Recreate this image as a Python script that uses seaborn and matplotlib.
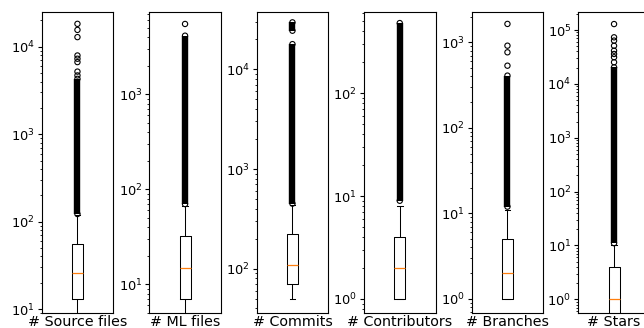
import matplotlib
matplotlib.use("Agg")
import matplotlib.pyplot as plt
import seaborn as sns

# ---------------- data ----------------
metrics = ["# Source files", "# ML files", "# Commits", "# Contributors", "# Branches", "# Stars"]

whisker_low = [1, 1, 50, 1, 1, 0]
q1 = [13, 7, 70, 1, 1, 0]
median = [26, 15, 109, 2, 2, 1]
q3 = [56, 32, 221, 4, 5, 4]
whisker_high = [120, 67, 440, 8, 11, 10]

# dense runs of outliers (lowest, highest value of each run)
dense_source = [(122, 4300)]
dense_ml = [(70, 4140)]
dense_commits = [(450, 17900), (24400, 29600)]
dense_contributors = [(9, 480)]
dense_branches = [(12, 408)]
dense_stars = [(11, 20300)]

# individual outliers above the dense runs
sparse_source = [4700, 5200, 6680, 7300, 7950, 12900, 15600, 18300]
sparse_ml = [5500]
sparse_commits = []
sparse_contributors = []
sparse_branches = [533, 764, 913, 1640]
sparse_stars = [25200, 31200, 35900, 41300, 51000, 63600, 73200, 129000]

y_limits = [(9.0, 25000), (5.0, 7350), (36, 37600), (0.73, 615), (0.686, 2260), (0.557, 216000)]

dense_runs = [dense_source, dense_ml, dense_commits, dense_contributors, dense_branches, dense_stars]
sparse_outliers = [sparse_source, sparse_ml, sparse_commits, sparse_contributors, sparse_branches, sparse_stars]

# ---------------- layout ----------------
W, H = 644, 328
fig = plt.figure(figsize=(W / 100, H / 100), dpi=100)
lefts_px = [41.7, 149.3, 256.7, 364.0, 471.7, 578.3]
ax_w_px, ax_bottom_px, ax_h_px = 71.5, 15, 301

marker_size = 3.8   # pt
marker_edge = 0.8   # pt
band_width = marker_size + marker_edge

for i, name in enumerate(metrics):
    ax = fig.add_axes([lefts_px[i] / W, ax_bottom_px / H, ax_w_px / W, ax_h_px / H])
    box_values = [whisker_low[i], q1[i], median[i], q3[i], whisker_high[i]]
    sns.boxplot(y=box_values, ax=ax, whis=(0, 100), width=0.155, fill=False,
                color="black", linewidth=0.75, showfliers=False,
                medianprops={"color": "#ff7f0e", "linewidth": 0.9})
    ax.set_yscale("log")

    # dense outlier runs
    for lo, hi in dense_runs[i]:
        ax.plot([0, 0], [lo, hi], color="black", linewidth=band_width,
                solid_capstyle="butt", zorder=3)
        sns.scatterplot(x=[0, 0], y=[lo, hi], ax=ax, marker="o", s=marker_size ** 2,
                        facecolor="none", edgecolor="black", linewidth=marker_edge,
                        zorder=4, legend=False)
    pts = sparse_outliers[i]
    if pts:
        sns.scatterplot(x=[0] * len(pts), y=pts, ax=ax, marker="o", s=marker_size ** 2,
                        facecolor="none", edgecolor="black", linewidth=marker_edge,
                        zorder=4, legend=False)

    ax.set_ylim(*y_limits[i])
    ax.set_xlim(-0.5, 0.5)
    ax.set_xticks([0])
    ax.set_xticklabels([name])
    ax.set_xlabel("")
    ax.set_ylabel("")
    ax.tick_params(axis="x", length=0, pad=1.8, labelsize=10.3)
    ax.tick_params(axis="y", which="major", labelsize=9.4, length=3, pad=2, width=0.8)
    ax.tick_params(axis="y", which="minor", length=1.7, width=0.6)
    for sp in ax.spines.values():
        sp.set_linewidth(0.8)

fig.savefig("out.png", dpi=100)
